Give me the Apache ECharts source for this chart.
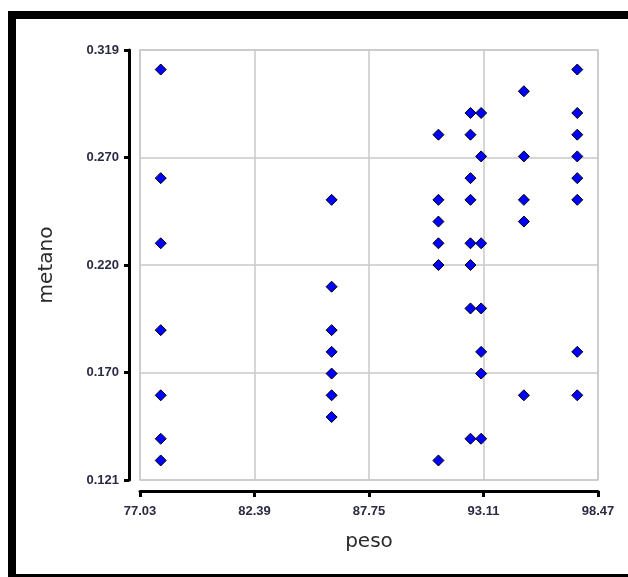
<!DOCTYPE html>
<html>
<head>
<meta charset="utf-8">
<script src="https://cdn.jsdelivr.net/npm/echarts@6/dist/echarts.min.js"></script>
<style>
  html, body { margin: 0; padding: 0; background: #fff; }
  #chart { width: 628px; height: 577px; }
</style>
</head>
<body>
<div id="chart"></div>
<script>
// peso / metano pairs
const peso = [
    78, 78, 78, 78, 78, 78, 78,
    86, 86, 86, 86, 86, 86, 86,
    91, 91, 91, 91, 91, 91,
    92.5, 92.5, 92.5, 92.5, 92.5, 92.5, 92.5, 92.5,
    93, 93, 93, 93, 93, 93, 93,
    95, 95, 95, 95, 95,
    97.5, 97.5, 97.5, 97.5, 97.5, 97.5, 97.5, 97.5
];
const metano = [
    0.31, 0.26, 0.23, 0.19, 0.16, 0.14, 0.13,
    0.25, 0.21, 0.19, 0.18, 0.17, 0.16, 0.15,
    0.28, 0.25, 0.24, 0.23, 0.22, 0.13,
    0.29, 0.28, 0.26, 0.25, 0.23, 0.22, 0.20, 0.14,
    0.29, 0.27, 0.23, 0.20, 0.18, 0.17, 0.14,
    0.30, 0.27, 0.25, 0.24, 0.16,
    0.31, 0.29, 0.28, 0.27, 0.26, 0.25, 0.18, 0.16
];
const xTickLabels = ['77.03', '82.39', '87.75', '93.11', '98.47'];
const yTickLabels = ['0.121', '0.170', '0.220', '0.270', '0.319'];

const points = peso.map((p, i) => [p, metano[i]]);

const tickFont = {
    color: '#2a2a44',
    fontFamily: '"Liberation Sans Narrow", "Liberation Sans", Arial, sans-serif',
    fontWeight: 'bold',
    fontSize: 13
};

const chart = echarts.init(document.getElementById('chart'));
chart.setOption({
    animation: false,
    backgroundColor: '#fff',
    graphic: [
        { type: 'rect', shape: { x: 8, y: 11, width: 620, height: 8 }, style: { fill: '#000' } },
        { type: 'rect', shape: { x: 8, y: 11, width: 8, height: 566 }, style: { fill: '#000' } },
        { type: 'rect', shape: { x: 8, y: 574, width: 620, height: 3 }, style: { fill: '#000' } }
    ],
    grid: {
        left: 140, right: 30, top: 50, bottom: 97,
        show: true,
        borderColor: '#c8c8c8',
        borderWidth: 1.5
    },
    xAxis: {
        type: 'value',
        min: 77.03,
        max: 98.47,
        interval: 5.36,
        offset: 11,
        name: 'peso',
        nameLocation: 'middle',
        nameGap: 41,
        nameTextStyle: { fontFamily: '"DejaVu Sans", sans-serif', fontSize: 20, color: '#2a2a2a' },
        axisLine: { show: true, lineStyle: { color: '#000', width: 3 } },
        axisTick: { show: true, length: 6, lineStyle: { color: '#000', width: 3 } },
        axisLabel: Object.assign({ margin: 14, formatter: (v, i) => xTickLabels[i] }, tickFont),
        splitLine: { show: true, lineStyle: { color: '#c8c8c8', width: 1.5 } }
    },
    yAxis: {
        type: 'value',
        min: 0.121,
        max: 0.319,
        interval: 0.0495,
        offset: 11,
        name: 'metano',
        nameLocation: 'middle',
        nameGap: 72,
        nameTextStyle: { fontFamily: '"DejaVu Sans", sans-serif', fontSize: 20, color: '#2a2a2a' },
        axisLine: { show: true, lineStyle: { color: '#000', width: 3 } },
        axisTick: { show: true, length: 5, lineStyle: { color: '#000', width: 3 } },
        axisLabel: Object.assign({ margin: 10, formatter: (v, i) => yTickLabels[i] }, tickFont),
        splitLine: { show: true, lineStyle: { color: '#c8c8c8', width: 1.5 } }
    },
    series: [{
        type: 'scatter',
        data: points,
        symbol: 'diamond',
        symbolSize: 11,
        itemStyle: { color: '#0000ff', borderColor: '#000', borderWidth: 1, opacity: 1 }
    }]
});
</script>
</body>
</html>
